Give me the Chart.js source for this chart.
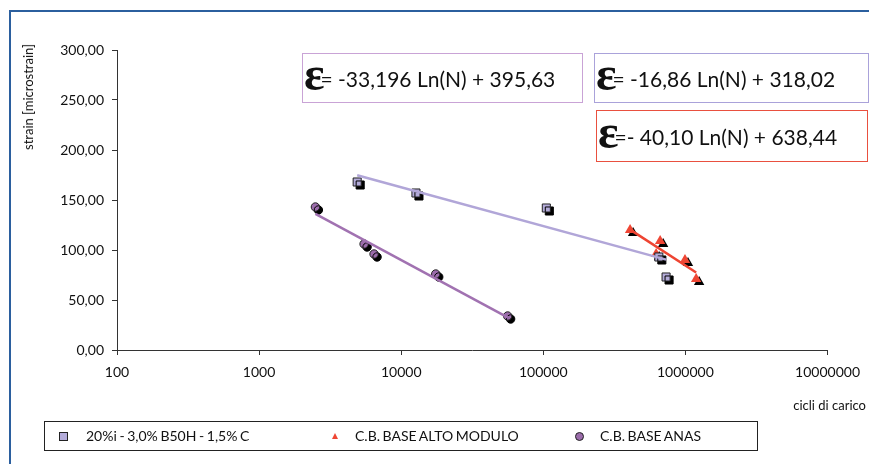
<!DOCTYPE html>
<html>
<head>
<meta charset="utf-8">
<script src="https://cdn.jsdelivr.net/npm/chart.js@4.4.1/dist/chart.umd.min.js"></script>
<style>
  html, body { margin: 0; padding: 0; background: #fff; }
  #wrap { position: relative; width: 869px; height: 464px; overflow: hidden;
          font-family: Lato, "Open Sans", sans-serif; color: #111; }
  #chart { position: absolute; left: 0; top: 0; }
  .frame { position: absolute; left: 9px; top: 10px; width: 900px; height: 500px;
           border-left: 2px solid #2b5f9e; border-top: 2px solid #2b5f9e; }
  .eq { position: absolute; background: #fff; box-sizing: border-box; display: flex;
        align-items: center; white-space: nowrap; font-size: 21px; }
  .eq .e { font-family: "Liberation Serif", serif; font-weight: bold; font-size: 48px;
           line-height: 1; margin: -8px -4px 0 1px; }
  .ytitle { position: absolute; left: 28px; top: 97px; font-size: 13px; white-space: nowrap;
            transform: translate(-50%, -50%) rotate(-90deg); }
  .xtitle { position: absolute; right: 3px; top: 397px; font-size: 13px; white-space: nowrap; }
  .legend { position: absolute; left: 44px; top: 421px; width: 714px; height: 30px;
            box-sizing: border-box; border: 1px solid #222; font-size: 14px; }
  .item { position: absolute; top: 0; height: 28px; line-height: 28px; white-space: nowrap;
          word-spacing: -1px; }
  .mk { position: absolute; }
</style>
</head>
<body>
<div id="wrap">
  <div class="frame"></div>
  <canvas id="chart" width="869" height="464"></canvas>
  <div class="ytitle">strain [microstrain]</div>
  <div class="xtitle">cicli di carico</div>
  <div class="eq" style="left:302px;top:53px;width:281px;height:50px;border:1px solid #c9a3d6;">
    <span class="e">ε</span><span>= -33,196 Ln(N) + 395,63</span></div>
  <div class="eq" style="left:594px;top:53px;width:275px;height:50px;border:1px solid #aaa2da;">
    <span class="e">ε</span><span>= -16,86 Ln(N) + 318,02</span></div>
  <div class="eq" style="left:596px;top:110px;width:272px;height:52px;border:1px solid #e9503f;">
    <span class="e">ε</span><span>=- 40,10 Ln(N) + 638,44</span></div>
  <div class="legend">
    <div class="mk" style="left:14px;top:10px;width:7px;height:7px;background:#b3abd9;border:1px solid #222;"></div>
    <div class="item" style="left:41px;">20%i - 3,0% B50H - 1,5% C</div>
    <div class="mk" style="left:287px;top:11px;width:0;height:0;border-left:3px solid transparent;border-right:3px solid transparent;border-bottom:6px solid #ef4634;"></div>
    <div class="item" style="left:310px;">C.B. BASE ALTO MODULO</div>
    <div class="mk" style="left:530px;top:10px;width:7px;height:7px;border-radius:50%;background:#9b6cab;border:1px solid #222;"></div>
    <div class="item" style="left:555px;">C.B. BASE ANAS</div>
  </div>
</div>
<script>
// Cycle counts (N) and measured strain for each mixture
const squareCycles = [4900, 12700, 105000, 650000, 731000];
const squareStrain = [168, 157, 142, 93, 73];
const triCycles = [408000, 622000, 664000, 993000, 1190000];
const triStrain = [120, 96, 109, 90, 71];
const circleCycles = [2490, 5480, 6440, 17500, 56100];
const circleStrain = [143, 106, 96, 76, 34];

// Logarithmic fits: strain = a * ln(N) + b
const squareFit = [-16.86, 318.02];
const triFit = [-40.10, 638.44];
const circleFit = [-33.196, 395.63];

// Axis ticks
const xTicks = [100, 1000, 10000, 100000, 1000000, 10000000];
const yTicks = [0, 50, 100, 150, 200, 250, 300];

const toPoints = (xs, ys) => xs.map((x, i) => ({ x, y: ys[i] }));
function fitLine(xs, fit) {
  const lo = Math.min(...xs), hi = Math.max(...xs);
  return [lo, hi].map(n => ({ x: n, y: fit[0] * Math.log(n) + fit[1] }));
}

// Hard black drop shadow behind the markers
const markerShadow = {
  id: 'markerShadow',
  beforeDatasetDraw(chart, args) {
    if (chart.data.datasets[args.index].shadow) {
      const c = chart.ctx;
      c.save();
      c.shadowColor = '#000';
      c.shadowOffsetX = 3;
      c.shadowOffsetY = 3;
      c.shadowBlur = 0;
    }
  },
  afterDatasetDraw(chart, args) {
    if (chart.data.datasets[args.index].shadow) chart.ctx.restore();
  }
};

const tickFont = { family: 'Lato', size: 14 };

new Chart(document.getElementById('chart'), {
  type: 'scatter',
  data: {
    datasets: [
      { label: 'fit 20%i', data: fitLine(squareCycles, squareFit), showLine: true,
        borderColor: '#b1a6d8', borderWidth: 2.5, pointRadius: 0, order: 0 },
      { label: 'fit alto modulo', data: fitLine(triCycles, triFit), showLine: true,
        borderColor: '#ee4432', borderWidth: 2.5, pointRadius: 0, order: 0 },
      { label: 'fit anas', data: fitLine(circleCycles, circleFit), showLine: true,
        borderColor: '#a172b1', borderWidth: 2.5, pointRadius: 0, order: 0 },
      { label: '20%i - 3,0% B50H - 1,5% C', data: toPoints(squareCycles, squareStrain),
        pointStyle: 'rect', pointRadius: 5.7, backgroundColor: '#b3abd9', borderColor: '#222',
        borderWidth: 1, shadow: true, order: 1 },
      { label: 'C.B. BASE ALTO MODULO', data: toPoints(triCycles, triStrain),
        pointStyle: 'triangle', pointRadius: 6, backgroundColor: '#ef4634', borderColor: '#ef4634',
        borderWidth: 0, shadow: true, order: 1 },
      { label: 'C.B. BASE ANAS', data: toPoints(circleCycles, circleStrain),
        pointStyle: 'circle', pointRadius: 4.2, backgroundColor: '#9b6cab', borderColor: '#222',
        borderWidth: 1, shadow: true, order: 1 }
    ]
  },
  options: {
    responsive: false,
    animation: false,
    devicePixelRatio: 1,
    layout: { padding: { top: 50, right: 39, left: 0, bottom: 0 } },
    plugins: { legend: { display: false }, tooltip: { enabled: false } },
    scales: {
      x: {
        type: 'logarithmic', min: 100, max: 10000000,
        afterFit(s) { s.height = 114; },
        afterBuildTicks(s) { s.ticks = xTicks.map(v => ({ value: v })); },
        ticks: { callback: v => String(v), color: '#111', font: tickFont, padding: 9,
                 autoSkip: false, maxRotation: 0 },
        grid: { drawOnChartArea: false, tickLength: 5, color: '#333' },
        border: { color: '#333', width: 1 }
      },
      y: {
        min: 0, max: 300,
        afterFit(s) { s.width = 117; },
        afterBuildTicks(s) { s.ticks = yTicks.map(v => ({ value: v })); },
        ticks: { callback: v => v.toFixed(2).replace('.', ','), color: '#111', font: tickFont,
                 padding: 8 },
        grid: { drawOnChartArea: false, tickLength: 5, color: '#333' },
        border: { color: '#333', width: 1 }
      }
    }
  },
  plugins: [markerShadow]
});
</script>
</body>
</html>
